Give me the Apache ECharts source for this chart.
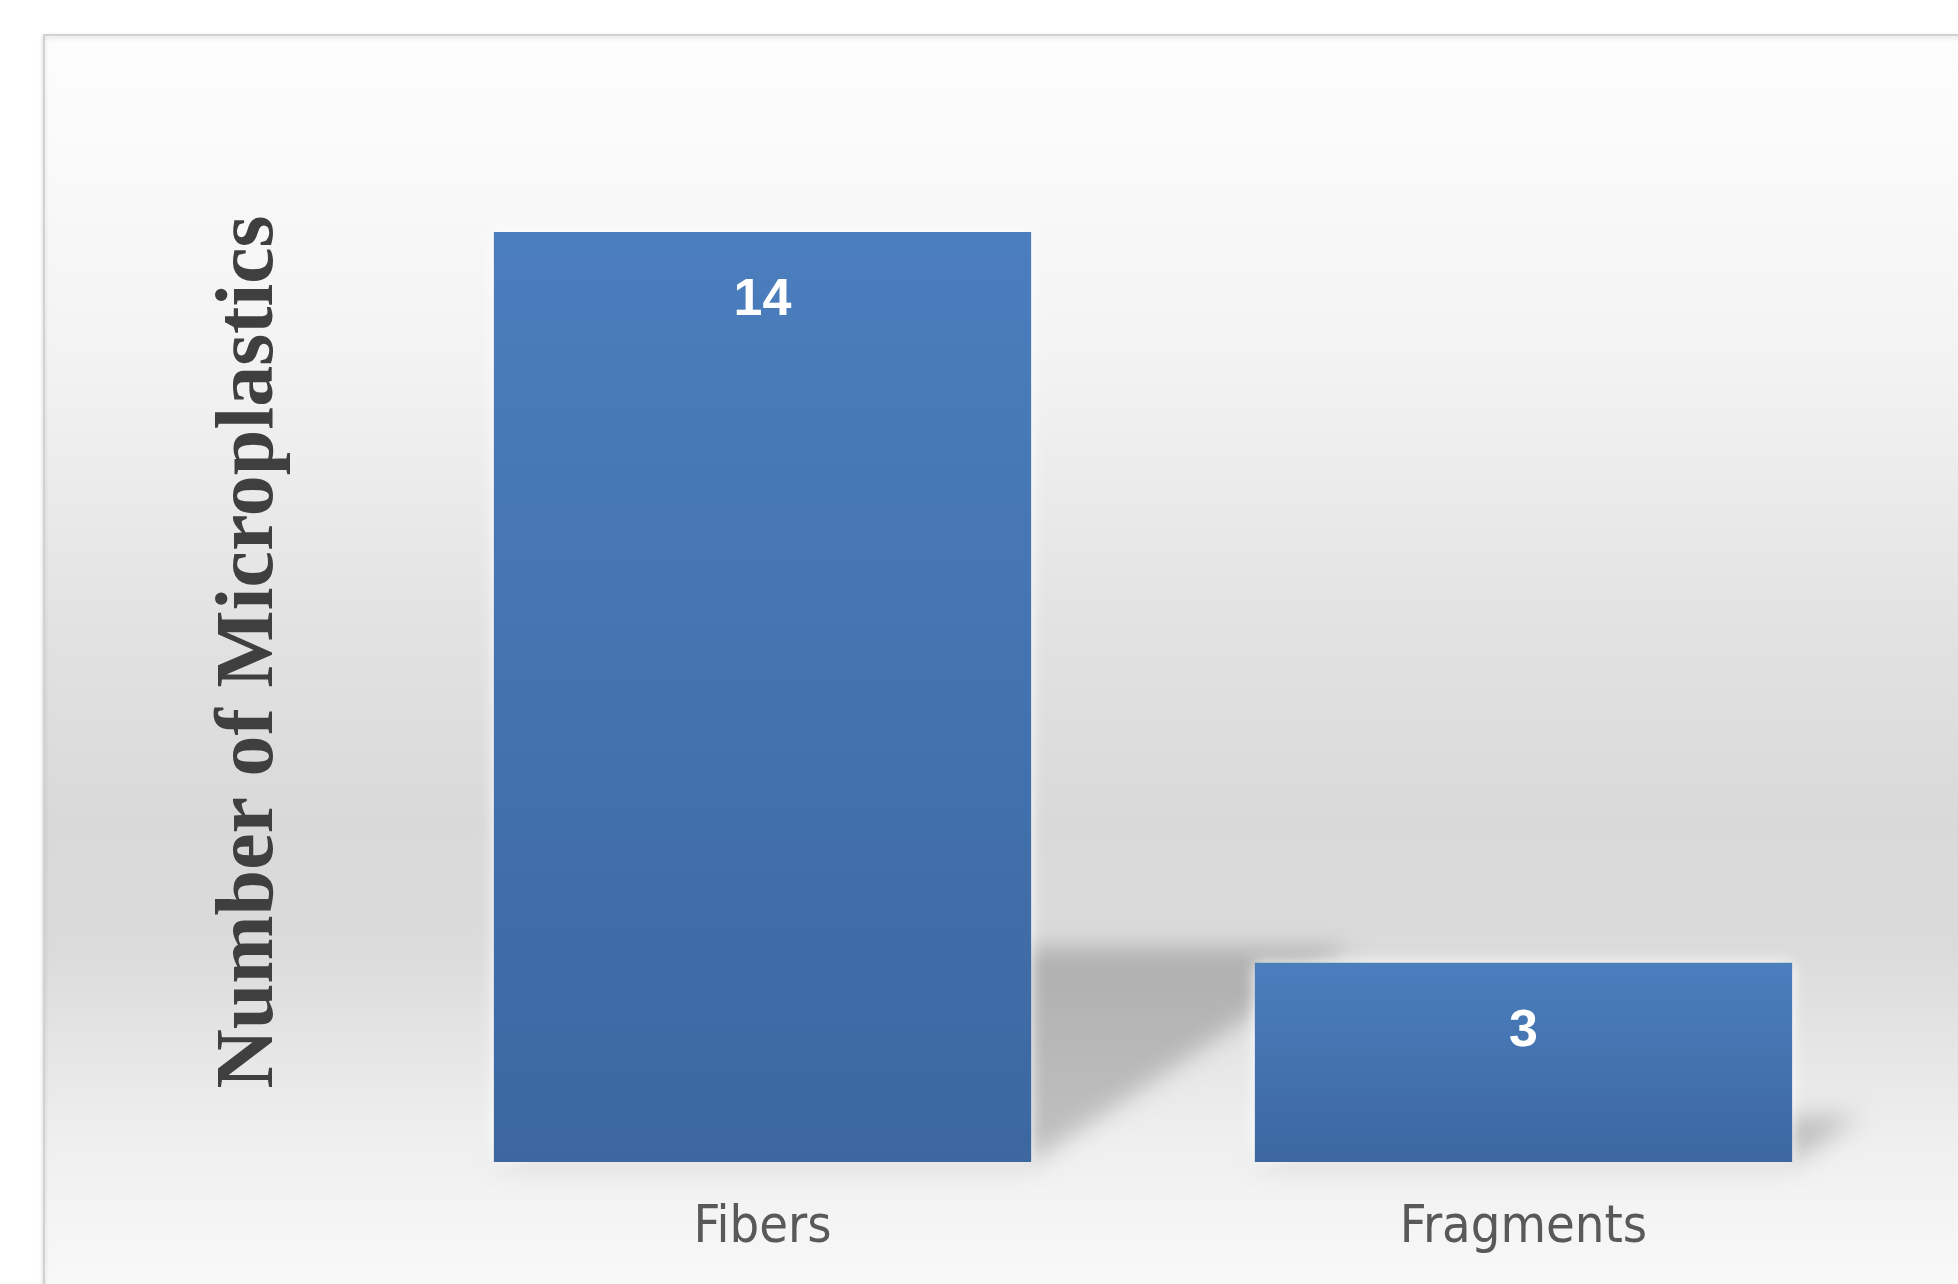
<!DOCTYPE html>
<html>
<head>
<meta charset="utf-8">
<script src="https://cdn.jsdelivr.net/npm/echarts@6/dist/echarts.min.js"></script>
<style>
  html, body { margin: 0; padding: 0; background: #ffffff; }
  #chart { width: 1958px; height: 1284px; }
</style>
</head>
<body>
<div id="chart"></div>
<script>
// ---- data ----
const categories = ['Fibers', 'Fragments'];
const counts = [14, 3];
const yAxisTitle = 'Number of Microplastics';

const BAR_RATIO = 0.706;
const chart = echarts.init(document.getElementById('chart'), null, { renderer: 'canvas' });

const shadowData = counts.map((v, i) => [i, v]);
const OFF = 4000;

const option = {
  animation: false,
  backgroundColor: '#ffffff',
  graphic: [
    {
      type: 'rect', z: 0, silent: true,
      shape: { x: 44, y: 35, width: 1958 - 44 + 20, height: 1284 - 35 + 20 },
      style: {
        fill: new echarts.graphic.LinearGradient(0, 0, 0, 1, [
          { offset: 0.00, color: '#fdfdfd' },
          { offset: 0.07, color: '#fbfbfb' },
          { offset: 0.27, color: '#f2f2f2' },
          { offset: 0.47, color: '#e2e2e2' },
          { offset: 0.62, color: '#d9d9d9' },
          { offset: 0.72, color: '#dbdbdb' },
          { offset: 0.87, color: '#efefef' },
          { offset: 1.00, color: '#fafafa' }
        ]),
        stroke: '#d2d2d2', lineWidth: 2,
        shadowBlur: 4, shadowColor: 'rgba(0,0,0,0.15)', shadowOffsetY: 2
      }
    },
    {
      type: 'text', z: 10, silent: true,
      x: 251, y: 652, rotation: Math.PI / 2,
      style: {
        text: yAxisTitle,
        font: 'bold 82px "Liberation Serif", "Times New Roman", serif',
        fill: '#3f3f3f',
        textAlign: 'center', textVerticalAlign: 'middle'
      }
    }
  ],
  grid: { left: 382, right: 54, top: 232, bottom: 122 },
  xAxis: {
    type: 'category',
    data: categories,
    axisLine: { show: false },
    axisTick: { show: false },
    axisLabel: {
      margin: 40,
      color: '#595959',
      fontSize: 52,
      fontFamily: '"Liberation Sans Narrow", "DejaVu Sans Condensed", "Liberation Sans", sans-serif'
    }
  },
  yAxis: {
    type: 'value', min: 0, max: 14,
    show: true,
    axisLine: { show: false }, axisTick: { show: false },
    axisLabel: { show: false }, splitLine: { show: false }
  },
  series: [
    {
      type: 'custom',
      z: 1,
      silent: true,
      data: shadowData,
      encode: { x: 0, y: 1 },
      renderItem: function (params, api) {
        const idx = api.value(0);
        const v = api.value(1);
        const top = api.coord([idx, v]);
        const base = api.coord([idx, 0]);
        const bw = api.size([1, 0])[0] * BAR_RATIO;
        const x0 = base[0] - bw / 2, x1 = base[0] + bw / 2;
        const yb = base[1];
        const h = yb - top[1];
        const hs = 0.23 * h;
        const sh = 1.5 * hs;
        return {
          type: 'polygon',
          shape: { points: [
            [x0 - OFF, yb], [x1 - OFF, yb], [x1 + sh - OFF, yb - hs], [x0 + sh - OFF, yb - hs]
          ] },
          style: {
            fill: '#000',
            shadowColor: 'rgba(0,0,0,0.2)',
            shadowBlur: 24,
            shadowOffsetX: OFF,
            shadowOffsetY: 0
          }
        };
      }
    },
    {
      type: 'bar',
      z: 3,
      data: counts,
      barWidth: (BAR_RATIO * 100) + '%',
      itemStyle: {
        color: new echarts.graphic.LinearGradient(0, 0, 0, 1, [
          { offset: 0, color: '#4b7ebd' },
          { offset: 1, color: '#3c67a1' }
        ]),
        shadowColor: 'rgba(255,255,255,0.95)',
        shadowBlur: 14
      },
      label: {
        show: true,
        position: ['50%', 69],
        align: 'center',
        verticalAlign: 'middle',
        color: '#ffffff',
        fontSize: 52,
        fontWeight: 'bold',
        fontFamily: '"Liberation Sans", Arial, sans-serif'
      }
    }
  ]
};
chart.setOption(option);
</script>
</body>
</html>
